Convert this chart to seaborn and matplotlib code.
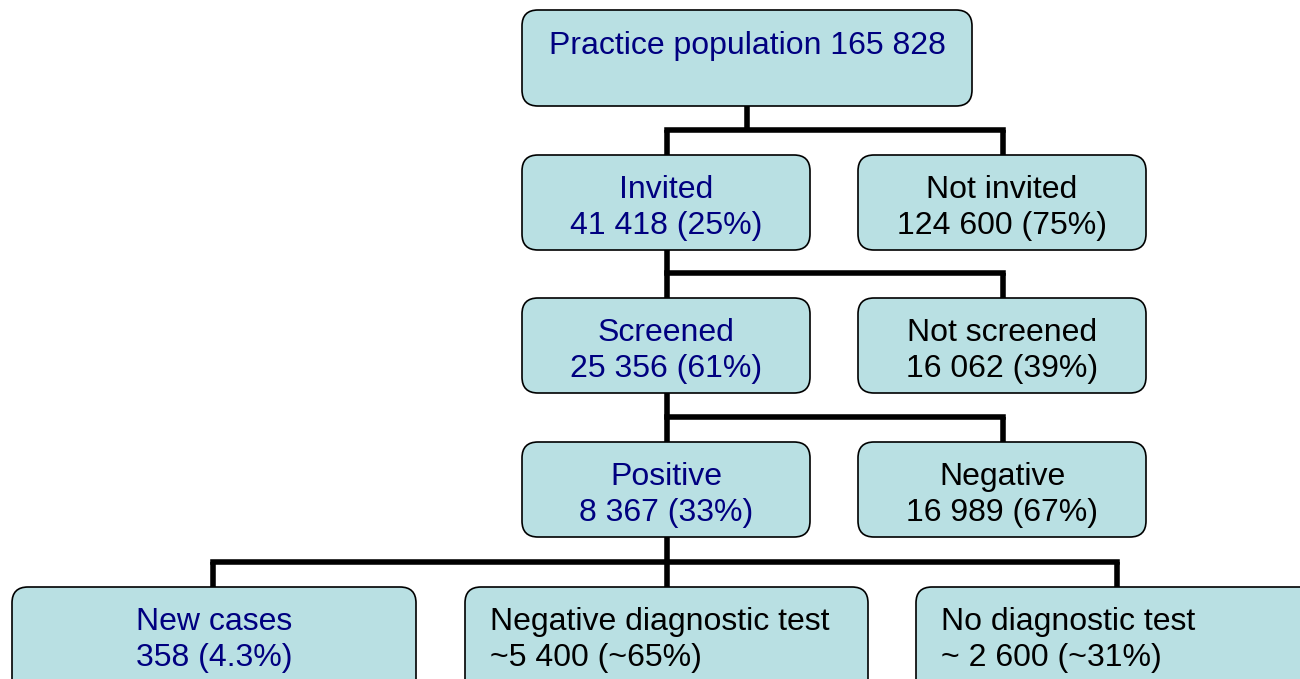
import matplotlib.pyplot as plt
import seaborn as sns
from matplotlib.patches import FancyBboxPatch

# flowchart contents
titles = ['Practice population', 'Invited', 'Not invited', 'Screened', 'Not screened',
          'Positive', 'Negative', 'New cases', 'Negative diagnostic test', 'No diagnostic test']
counts = ['165 828', '41 418', '124 600', '25 356', '16 062',
          '8 367', '16 989', '358', '~5 400', '~ 2 600']
shares = ['', '25%', '75%', '61%', '39%', '33%', '67%', '4.3%', '~65%', '~31%']
main_path = [True, True, False, True, False, True, False, True, False, False]

# layout (pixels, y down): x0, x1, y0, y1
boxes = [(522, 972, 10, 106),
         (522, 810, 155, 250), (858, 1146, 155, 250),
         (522, 810, 298, 393), (858, 1146, 298, 393),
         (522, 810, 442, 537), (858, 1146, 442, 537),
         (12, 416, 587, 700), (465, 868, 587, 700), (916, 1320, 587, 700)]
align = ['center'] * 8 + ['left', 'left']

sns.set_theme(style='white')
plt.rcParams['font.family'] = ['Liberation Sans', 'DejaVu Sans']

fig = plt.figure(figsize=(13, 6.79), dpi=100)
ax = fig.add_axes([0, 0, 1, 1])
ax.set_xlim(0, 1300)
ax.set_ylim(679, 0)
ax.axis('off')

fill = '#b9e0e3'
navy = '#000080'
fs = 23

# connectors
lw = 4
def link(parent, kids, ybar):
    px = (boxes[parent][0] + boxes[parent][1]) / 2 if parent == 0 else 667
    ax.plot([px, px], [boxes[parent][3], ybar], color='black', lw=lw, zorder=1, solid_capstyle='butt')
    ax.plot([min(kids), max(kids)], [ybar, ybar], color='black', lw=lw, zorder=1, solid_capstyle='projecting')
    for k in kids:
        ax.plot([k, k], [ybar, ybar + 26], color='black', lw=lw, zorder=1, solid_capstyle='butt')

link(0, [667, 1003], 130)
link(1, [667, 1003], 273)
link(3, [667, 1003], 417)
link(5, [213, 667, 1117], 562)

for i, (x0, x1, y0, y1) in enumerate(boxes):
    ax.add_patch(FancyBboxPatch((x0, y0), x1 - x0, y1 - y0,
                                boxstyle='round,pad=0,rounding_size=16',
                                fc=fill, ec='black', lw=1.2, zorder=2))
    col = navy if main_path[i] else 'black'
    tx = (x0 + x1) / 2 if align[i] == 'center' else x0 + 25
    if i == 0:
        ax.text(tx, y0 + 36, f'{titles[i]} {counts[i]}', ha='center', va='center',
                fontsize=fs, color=col, zorder=3)
        continue
    ax.text(tx, y0 + 35, titles[i], ha=align[i], va='center', fontsize=fs, color=col, zorder=3)
    ax.text(tx, y0 + 71, f'{counts[i]} ({shares[i]})', ha=align[i], va='center',
            fontsize=fs, color=col, zorder=3)

fig.savefig('out.png', dpi=100)
